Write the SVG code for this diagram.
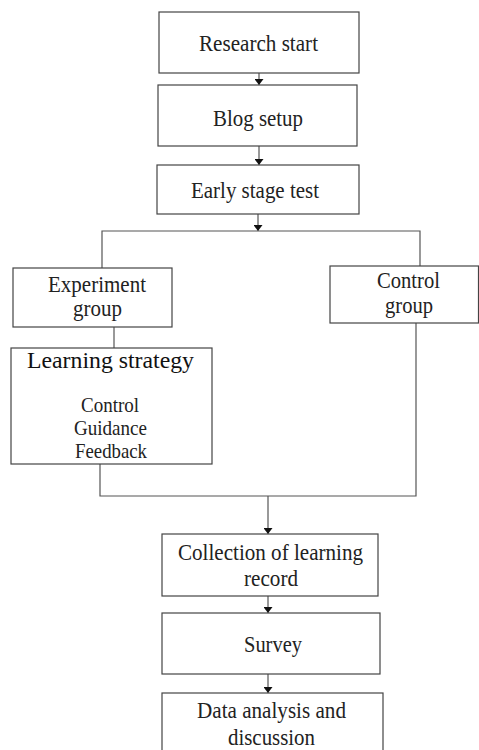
<svg xmlns="http://www.w3.org/2000/svg" width="479" height="750" viewBox="0 0 479 750">
<style>
.box{fill:#fff;stroke:#444;stroke-width:1.2}
.t{font-family:"Liberation Serif","Times New Roman",serif;font-size:23px;fill:#222;text-anchor:middle}
.ts{font-size:21px}
.tb{font-size:24px;fill:#111}
.c{fill:none;stroke:#555;stroke-width:1.2}
</style>
<defs>
<marker id="ah" viewBox="0 0 6 9" refX="6" refY="4.5" markerWidth="6" markerHeight="9" markerUnits="userSpaceOnUse" orient="auto">
<path d="M0,0 L6,4.5 L0,9 Z" fill="#111"/>
</marker>
</defs>
<rect width="479" height="750" fill="#fff"/>
<g id="connectors">
<line class="c" x1="259" y1="73" x2="259" y2="85" marker-end="url(#ah)"/>
<line class="c" x1="259" y1="146" x2="259" y2="165" marker-end="url(#ah)"/>
<line class="c" x1="258" y1="214" x2="258" y2="231" marker-end="url(#ah)"/>
<polyline class="c" points="102,268 102,231 420,231 420,266"/>
<line class="c" x1="114" y1="327" x2="114" y2="348"/>
<polyline class="c" points="100,464 100,496 416,496 416,323"/>
<line class="c" x1="268" y1="496" x2="268" y2="534" marker-end="url(#ah)"/>
<line class="c" x1="268" y1="596" x2="268" y2="613" marker-end="url(#ah)"/>
<line class="c" x1="268" y1="674" x2="268" y2="693" marker-end="url(#ah)"/>
</g>
<g id="research-start">
<rect class="box" x="159" y="12" width="200" height="61"/>
<text class="t" x="258.5" y="51" textLength="119" lengthAdjust="spacingAndGlyphs">Research start</text>
</g>
<g id="blog-setup">
<rect class="box" x="158" y="85" width="199" height="61"/>
<text class="t" x="258" y="126" textLength="90" lengthAdjust="spacingAndGlyphs">Blog setup</text>
</g>
<g id="early-stage-test">
<rect class="box" x="157" y="165" width="202" height="49"/>
<text class="t" x="255" y="198" textLength="128" lengthAdjust="spacingAndGlyphs">Early stage test</text>
</g>
<g id="experiment-group">
<rect class="box" x="13" y="268" width="159" height="59"/>
<text class="t" x="97" y="292" textLength="98" lengthAdjust="spacingAndGlyphs">Experiment</text>
<text class="t" x="97.5" y="316" textLength="49" lengthAdjust="spacingAndGlyphs">group</text>
</g>
<g id="control-group">
<rect class="box" x="330" y="266" width="148.5" height="57"/>
<text class="t" x="408.5" y="288" textLength="63" lengthAdjust="spacingAndGlyphs">Control</text>
<text class="t" x="409" y="313" textLength="48" lengthAdjust="spacingAndGlyphs">group</text>
</g>
<g id="learning-strategy">
<rect class="box" x="11" y="348" width="201" height="116"/>
<text class="t tb" x="110.5" y="368" textLength="167" lengthAdjust="spacingAndGlyphs">Learning strategy</text>
<text class="t ts" x="110" y="412" textLength="58" lengthAdjust="spacingAndGlyphs">Control</text>
<text class="t ts" x="110.5" y="435" textLength="73" lengthAdjust="spacingAndGlyphs">Guidance</text>
<text class="t ts" x="111" y="458" textLength="72" lengthAdjust="spacingAndGlyphs">Feedback</text>
</g>
<g id="collection">
<rect class="box" x="162" y="534" width="216" height="62"/>
<text class="t" x="270.5" y="560" textLength="185" lengthAdjust="spacingAndGlyphs">Collection of learning</text>
<text class="t" x="271" y="586" textLength="54" lengthAdjust="spacingAndGlyphs">record</text>
</g>
<g id="survey">
<rect class="box" x="162" y="613" width="218" height="61"/>
<text class="t" x="273" y="652" textLength="58" lengthAdjust="spacingAndGlyphs">Survey</text>
</g>
<g id="data-analysis">
<rect class="box" x="162" y="693" width="221" height="70"/>
<text class="t" x="271.5" y="718" textLength="149" lengthAdjust="spacingAndGlyphs">Data analysis and</text>
<text class="t" x="271.5" y="745" textLength="87" lengthAdjust="spacingAndGlyphs">discussion</text>
</g>
</svg>
